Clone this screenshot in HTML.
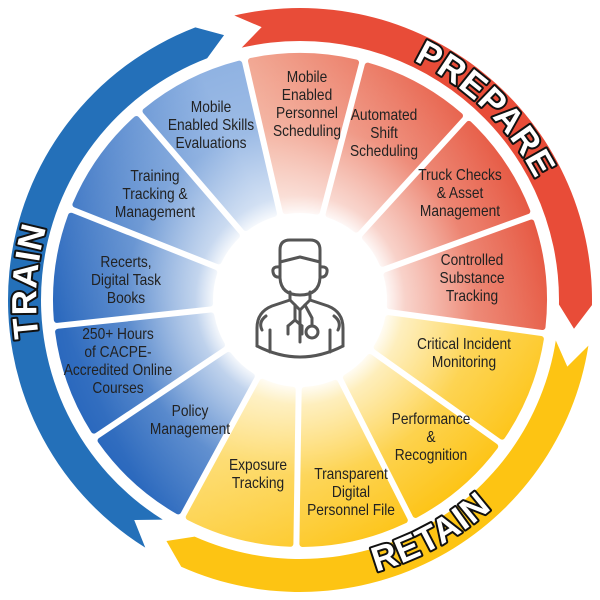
<!DOCTYPE html>
<html><head><meta charset="utf-8"><style>
html,body{margin:0;padding:0;background:#fff;width:600px;height:600px;overflow:hidden}
svg{display:block}
.seg{font-family:"Liberation Sans Narrow","Liberation Sans",sans-serif;font-size:16px;fill:#222;text-anchor:middle}
.ring{font-family:"Liberation Sans",sans-serif;font-weight:bold;font-size:35px;fill:#fff;stroke:#111;stroke-width:4;paint-order:stroke;stroke-linejoin:round;letter-spacing:1px}
</style></head><body>
<svg id="s" width="600" height="600" viewBox="0 0 600 600" xmlns="http://www.w3.org/2000/svg">
<defs>
<linearGradient id="gb" gradientUnits="userSpaceOnUse" x1="50" y1="300" x2="260" y2="200"><stop offset="0" stop-color="#2a68bd"/><stop offset="1" stop-color="#8fb2e2"/></linearGradient>
<linearGradient id="gr" gradientUnits="userSpaceOnUse" x1="540" y1="170" x2="300" y2="260"><stop offset="0" stop-color="#e5503a"/><stop offset="1" stop-color="#f3b09c"/></linearGradient>
<linearGradient id="gy" gradientUnits="userSpaceOnUse" x1="470" y1="500" x2="330" y2="330"><stop offset="0" stop-color="#fdc20f"/><stop offset="1" stop-color="#fddc70"/></linearGradient>
<radialGradient id="wo" gradientUnits="userSpaceOnUse" cx="300" cy="300" r="250"><stop offset="0.33" stop-color="#fff" stop-opacity="1"/><stop offset="0.42" stop-color="#fff" stop-opacity="0.6"/><stop offset="0.7" stop-color="#fff" stop-opacity="0.12"/><stop offset="1" stop-color="#fff" stop-opacity="0"/></radialGradient>
<path id="pTrain" d="M 97.3 469.2 A 265 265 0 0 1 97.3 130.8"/>
<path id="pPrep" d="M 300 35 A 265 265 0 0 1 564.2 318.5"/>
<path id="pRet" d="M 163.2 548.3 A 289 289 0 0 0 575.8 376.1"/>
</defs>
<g id="rings"></g>
<g id="segs"></g>
<circle cx="300" cy="300" r="250" fill="url(#wo)"/>
<g fill="none" stroke="#555" stroke-width="3" stroke-linecap="round" stroke-linejoin="round">
<path d="M280,262 L280,250 Q280,240 290,240 L310,240 Q320,240 320,250 L320,262 L300,257 Z"/>
<path d="M280,262 L280,278 Q281,295 300,295 Q319,295 320,278 L320,262"/>
<path d="M280,267 Q272,266 273,272 Q274,278 280,277"/>
<path d="M320,267 Q328,266 327,272 Q326,278 320,277"/>
<path d="M290,292 L290,300 L272,306 Q257,312 257,328 L257,346"/>
<path d="M310,292 L310,300 L328,306 Q343,312 343,328 L343,346"/>
<path d="M257,346 Q300,368 343,346"/>
<path d="M290,300 L300,310 L310,300"/>
<path d="M300,310 L300,342"/>
<path d="M295,305 L295,320 M288,326 L295,320 L302,326"/>
<path d="M288,326 L288,334 M302,326 L302,334"/>
<path d="M305,305 L312,318 L312,326"/>
<circle cx="312" cy="332" r="6"/>
<path d="M266,316 Q258,322 262,330 M334,316 Q342,322 338,330"/>
<path d="M270,330 L270,352 M330,330 L330,352"/>
</g>
<g class="seg">
<g transform="translate(211,0) scale(0.86,1)"><text x="0" y="112">Mobile</text><text x="0" y="130">Enabled Skills</text><text x="0" y="148">Evaluations</text></g>
<g transform="translate(155,0) scale(0.86,1)"><text x="0" y="181">Training</text><text x="0" y="199">Tracking &amp;</text><text x="0" y="217">Management</text></g>
<g transform="translate(126,0) scale(0.86,1)"><text x="0" y="267">Recerts,</text><text x="0" y="285">Digital Task</text><text x="0" y="303">Books</text></g>
<g transform="translate(118,0) scale(0.86,1)"><text x="0" y="339">250+ Hours</text><text x="0" y="357">of CACPE-</text><text x="0" y="375">Accredited Online</text><text x="0" y="393">Courses</text></g>
<g transform="translate(190,0) scale(0.86,1)"><text x="0" y="416">Policy</text><text x="0" y="434">Management</text></g>
<g transform="translate(258,0) scale(0.86,1)"><text x="0" y="470">Exposure</text><text x="0" y="488">Tracking</text></g>
<g transform="translate(351,0) scale(0.86,1)"><text x="0" y="479">Transparent</text><text x="0" y="497">Digital</text><text x="0" y="515">Personnel File</text></g>
<g transform="translate(431,0) scale(0.86,1)"><text x="0" y="424">Performance</text><text x="0" y="442">&amp;</text><text x="0" y="460">Recognition</text></g>
<g transform="translate(464,0) scale(0.86,1)"><text x="0" y="349">Critical Incident</text><text x="0" y="367">Monitoring</text></g>
<g transform="translate(472,0) scale(0.86,1)"><text x="0" y="265">Controlled</text><text x="0" y="283">Substance</text><text x="0" y="301">Tracking</text></g>
<g transform="translate(460,0) scale(0.86,1)"><text x="0" y="180">Truck Checks</text><text x="0" y="198">&amp; Asset</text><text x="0" y="216">Management</text></g>
<g transform="translate(384,0) scale(0.86,1)"><text x="0" y="120">Automated</text><text x="0" y="138">Shift</text><text x="0" y="156">Scheduling</text></g>
<g transform="translate(307,0) scale(0.86,1)"><text x="0" y="82">Mobile</text><text x="0" y="100">Enabled</text><text x="0" y="118">Personnel</text><text x="0" y="136">Scheduling</text></g>
</g>
<text class="ring"><textPath href="#pTrain" startOffset="55%" text-anchor="middle">TRAIN</textPath></text>
<text class="ring"><textPath href="#pPrep" startOffset="47%" text-anchor="middle">PREPARE</textPath></text>
<text class="ring"><textPath href="#pRet" startOffset="56%" text-anchor="middle">RETAIN</textPath></text>
</svg>
<script>
(function(){
var NS="http://www.w3.org/2000/svg";
function pt(r,a){var t=a*Math.PI/180;return [(300+r*Math.sin(t)).toFixed(2),(300-r*Math.cos(t)).toFixed(2)];}
function P(p){return p[0]+" "+p[1];}
function ring(a0,a1,col){
 var r1=259,r2=292,rm=275.5,h=5,lg=(a1-a0)>180?1:0;
 var d="M"+P(pt(r2,a0))+" A"+r2+" "+r2+" 0 "+lg+" 1 "+P(pt(r2,a1))+" L"+P(pt(rm,a1+h))+" L"+P(pt(r1,a1))+
 " A"+r1+" "+r1+" 0 "+lg+" 0 "+P(pt(r1,a0))+" L"+P(pt(rm,a0+h))+" Z";
 var e=document.createElementNS(NS,"path");e.setAttribute("d",d);e.setAttribute("fill",col);
 document.getElementById("rings").appendChild(e);
}
ring(212,339,"#2470b9");
ring(-13,91,"#e84c38");
ring(99,204,"#fdc413");
var n=13,st=360/n,R=244,r=90,g=6;
for(var i=0;i<n;i++){
 var a0=-13+i*st,a1=a0+st;
 var dO=Math.asin(g/R)*180/Math.PI,dI=Math.asin(g/r)*180/Math.PI;
 var f=i<4?"url(#gr)":(i<8?"url(#gy)":"url(#gb)");
 var d="M"+P(pt(R,a0+dO))+" A"+R+" "+R+" 0 0 1 "+P(pt(R,a1-dO))+" L"+P(pt(r,a1-dI))+" A"+r+" "+r+" 0 0 0 "+P(pt(r,a0+dI))+" Z";
 var e=document.createElementNS(NS,"path");e.setAttribute("d",d);e.setAttribute("fill",f);e.setAttribute("stroke",f);
 e.setAttribute("stroke-width","6");e.setAttribute("stroke-linejoin","round");
 document.getElementById("segs").appendChild(e);
}
})();
</script>
</body></html>
